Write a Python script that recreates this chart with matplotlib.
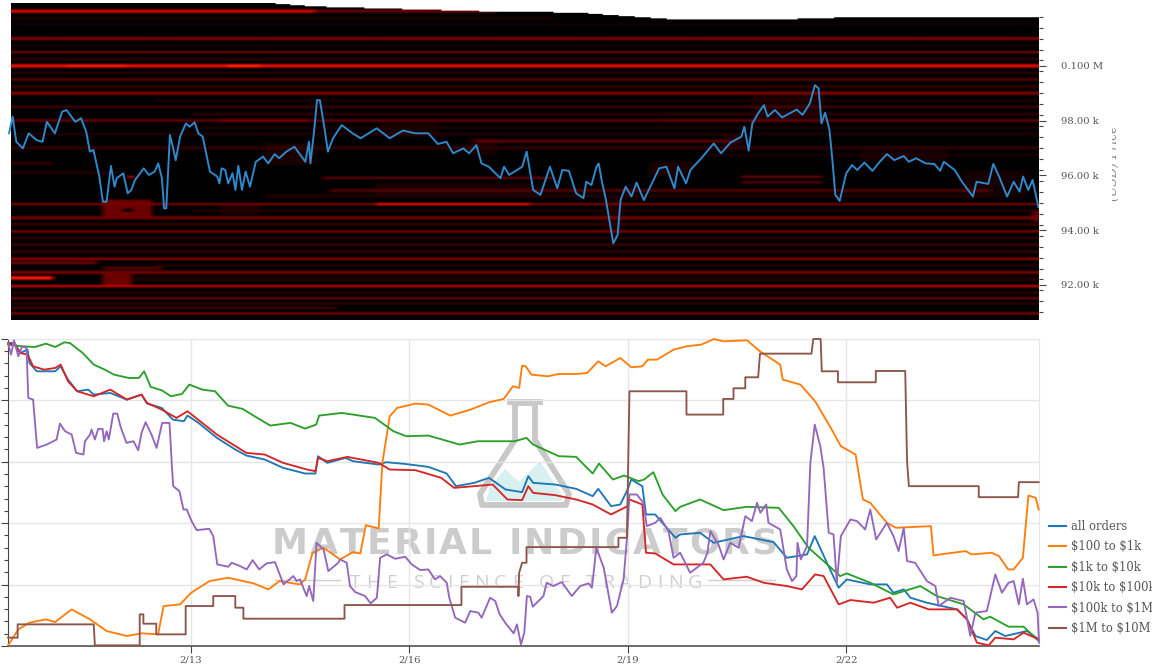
import numpy as np
import matplotlib
matplotlib.use("Agg")
import matplotlib.pyplot as plt
from matplotlib.colors import LinearSegmentedColormap
from matplotlib.lines import Line2D
from matplotlib.patches import Polygon, Rectangle
from matplotlib.ticker import FixedLocator, NullFormatter

W, H = 1152, 672
TEXT = "#555555"
plt.rcParams["font.family"] = "DejaVu Serif"

# --- top panel: price in k USD, x in days of February
price = [(10.50,97.54),(10.55,98.15),(10.60,97.23),(10.69,96.99),(10.77,97.54),(10.88,97.29),(10.96,97.23),
    (11.02,97.96),(11.13,97.54),(11.23,98.33),(11.29,98.39),(11.41,97.96),(11.49,98.09),(11.56,97.60),
    (11.61,96.87),(11.66,96.93),(11.74,95.96),(11.79,95.04),(11.84,95.04),(11.90,96.35),(11.95,95.59),
    (11.98,95.90),(12.07,96.08),(12.13,95.35),(12.18,95.47),(12.23,95.83),(12.35,96.26),(12.42,96.02),
    (12.50,96.14),(12.55,96.44),(12.60,95.90),(12.63,94.80),(12.66,94.80),(12.71,97.48),(12.75,97.05),
    (12.79,96.56),(12.85,97.42),(12.93,97.90),(12.98,97.78),(13.05,97.94),(13.10,97.54),(13.16,97.42),
    (13.26,96.14),(13.36,95.96),(13.39,95.71),(13.42,96.26),(13.47,96.20),(13.51,95.71),(13.57,96.08),
    (13.61,95.47),(13.65,96.35),(13.70,95.47),(13.75,96.14),(13.81,95.59),(13.89,96.50),(13.99,96.69),
    (14.06,96.44),(14.15,96.78),(14.21,96.63),(14.31,96.87),(14.42,97.05),(14.57,96.50),(14.62,97.23),
    (14.64,96.44),(14.69,97.60),(14.73,98.75),(14.77,98.75),(14.83,97.78),(14.88,96.87),(14.95,97.36),
    (15.07,97.84),(15.22,97.54),(15.33,97.36),(15.55,97.72),(15.73,97.36),(15.91,97.64),(16.08,97.54),
    (16.26,97.54),(16.39,97.15),(16.51,97.23),(16.60,96.81),(16.74,96.99),(16.82,96.81),(16.92,97.11),
    (16.99,96.44),(17.09,96.32),(17.25,95.90),(17.30,96.32),(17.37,96.02),(17.55,96.32),(17.61,96.87),
    (17.70,95.47),(17.80,95.29),(17.93,96.32),(18.03,95.53),(18.10,96.20),(18.19,96.17),(18.29,95.35),
    (18.39,95.17),(18.43,95.77),(18.50,95.65),(18.57,96.32),(18.60,96.44),(18.64,95.83),(18.70,95.10),
    (18.80,93.52),(18.86,93.83),(18.90,95.10),(18.97,95.59),(19.05,95.23),(19.12,95.74),(19.22,95.10),
    (19.33,95.71),(19.43,96.26),(19.53,96.32),(19.64,95.53),(19.69,96.32),(19.80,95.71),(19.86,96.20),
    (20.01,96.63),(20.18,97.17),(20.28,96.81),(20.41,97.20),(20.56,97.42),(20.60,97.78),(20.66,96.91),
    (20.71,97.90),(20.79,98.27),(20.87,98.57),(20.92,98.15),(21.02,98.39),(21.12,98.12),(21.32,98.41),
    (21.40,98.21),(21.50,98.63),(21.57,99.30),(21.62,99.18),(21.66,97.90),(21.71,98.29),(21.77,97.66),
    (21.81,96.56),(21.85,95.29),(21.91,95.07),(22.00,96.08),(22.08,96.38),(22.15,96.20),(22.25,96.47),
    (22.36,96.17),(22.46,96.50),(22.56,96.78),(22.66,96.56),(22.79,96.71),(22.86,96.50),(22.96,96.63),
    (23.09,96.44),(23.21,96.42),(23.29,96.17),(23.34,96.50),(23.49,96.20),(23.59,95.77),(23.74,95.23),
    (23.79,95.77),(23.95,95.69),(24.02,96.42),(24.10,95.96),(24.21,95.23),(24.30,95.77),(24.38,95.41),
    (24.43,95.96),(24.50,95.47),(24.56,95.83),(24.60,95.35),(24.64,94.84)]

# order book walls: price, from day, to day, strength
walls = [(102.0,10.53,14.70,.70),(102.0,14.70,17.2,.30),(101.75,10.53,18.0,.10),(101.0,10.53,24.65,.36),
    (100.5,10.53,24.65,.36),(100.0,10.53,24.65,.80),(100.0,11.28,12.12,.92),(100.0,13.50,13.94,1.0),
    (99.5,10.53,24.65,.32),(99.0,10.53,24.65,.38),(98.5,10.53,24.65,.22),(98.0,10.53,24.65,.24),
    (98.0,13.4,14.6,.34),(98.0,19.5,21.4,.26),(97.5,10.53,24.65,.12),(97.25,16.9,20.5,.26),(97.0,10.53,24.65,.14),
    (96.45,10.53,11.1,.14),(96.1,10.53,12.0,.14),(95.9,14.8,18.0,.30),(95.95,20.56,21.67,.32),
    (95.75,20.56,21.67,.28),(95.45,14.9,24.0,.22),(94.95,10.53,24.65,.38),(94.95,15.54,17.66,.85),
    (94.44,10.53,24.65,.34),(93.95,10.53,24.65,.42),(93.46,10.53,24.65,.22),(92.95,10.53,24.65,.50),
    (92.24,10.53,11.10,.92),(92.45,10.53,24.65,.34),(91.95,10.53,24.65,.66),(91.5,10.53,24.65,.34),
    (91.15,10.53,15.0,.22),(90.95,10.53,24.65,.40),(92.8,10.53,11.7,.30),(92.6,11.78,12.6,.24),
    (101.5,10.53,24.65,.06),(100.75,10.53,24.65,.08),(100.25,10.53,24.65,.12),(99.75,10.53,24.65,.14),
    (99.25,10.53,24.65,.14),(98.75,12.5,24.65,.12),(98.25,13.0,24.65,.12),(97.75,13.0,24.65,.10),
    (96.75,20.0,24.65,.10),(95.25,14.0,24.0,.10),(94.7,13.0,24.65,.12),(94.2,10.53,24.65,.14),
    (93.7,10.53,24.65,.14),(93.2,10.53,24.65,.14),(92.7,12.5,24.65,.12),(92.2,12.2,24.65,.12),
    (91.7,10.53,24.65,.16),(91.3,10.53,24.65,.14)]

# blocks: low price, high price, from day, to day, strength
blocks = [(94.37,95.10,11.78,12.45,.32),(92.0,92.5,11.78,12.18,.32),(95.9,96.0,12.13,12.2,.92),
    (98.0,98.9,20.7,21.7,.07),(96.7,97.4,16.8,17.2,.07),(97.4,97.9,15.6,16.4,.07),(96.4,97.2,14.0,14.7,.08),
    (95.2,95.7,15.5,17.7,.07),(94.6,95.0,13.4,13.95,.08),(96.9,97.5,20.3,20.6,.08),(96.5,96.9,22.2,23.4,.07),
    (95.2,96.2,23.6,24.5,.06),(94.0,95.3,18.65,18.95,.07),(96.0,96.5,19.3,19.9,.08),(94.3,94.7,24.55,24.65,.26)]
holes = [(94.68,94.80,12.05,12.20)]

# upper edge of the heatmap
edge_day = [10.53,14.06,14.72,17.09,18.29,19.70,20.97,22.33,24.65]
edge_price = [102.3,102.3,102.17,101.99,101.95,101.69,101.69,101.80,101.80]

price_ticks = [92,94,96,98,100]
price_labels = ["92.00 k","94.00 k","96.00 k","98.00 k","0.100 M"]

# --- bottom panel: (sample, relative level), 198 samples per day, first sample = day 10.376
all_orders = [(22,910),(40,910),(55,880),(75,890),(80,850),(100,825),(150,825),(165,840),(185,800),(210,765),
    (240,770),(255,755),(300,760),(345,740),(385,755),(400,728),(440,715),(470,680),(500,675),(510,692),
    (540,670),(590,625),(640,590),(670,572),(720,560),(770,535),(830,518),(858,518),(865,570),(890,550),
    (940,565),(960,555),(1030,545),(1050,552),(1100,547),(1165,538),(1215,518),(1240,480),(1290,490),
    (1330,505),(1375,470),(1420,462),(1437,510),(1450,490),(1510,485),(1567,472),(1612,450),(1627,472),
    (1662,420),(1687,425),(1707,470),(1717,500),(1747,480),(1757,395),(1782,395),(1817,350),(1837,325),
    (1850,335),(1904,340),(1941,310),(2022,330),(2104,312),(2140,265),(2195,275),(2216,330),(2249,250),
    (2281,175),(2303,200),(2367,185),(2412,185),(2430,160),(2458,170),(2476,145),(2521,130),(2603,110),
    (2630,80),(2653,30),(2684,18),(2707,45),(2734,30),(2793,45),(2825,20)]
usd_100_1k = [(22,2),(50,50),(80,70),(125,80),(150,72),(195,110),(245,80),(290,45),(345,30),(385,38),(430,35),
    (445,120),(490,125),(520,160),(570,195),(620,205),(690,188),(730,170),(760,195),(815,185),(830,200),
    (850,280),(880,295),(925,260),(960,282),(980,278),(995,363),(1030,353),(1040,550),(1060,690),(1080,715),
    (1130,728),(1165,725),(1225,692),(1280,710),(1330,732),(1370,742),(1395,780),(1412,775),(1420,842),
    (1430,840),(1445,815),(1490,810),(1520,817),(1567,817),(1597,820),(1627,855),(1647,840),(1687,865),
    (1717,837),(1747,840),(1762,860),(1787,860),(1832,890),(1867,900),(1907,905),(1942,922),(1967,915),
    (2032,918),(2067,885),(2122,845),(2129,800),(2177,785),(2217,735),(2257,660),(2287,600),(2327,575),
    (2347,440),(2367,430),(2412,370),(2437,355),(2532,360),(2539,272),(2577,278),(2627,285),(2642,275),
    (2697,280),(2717,270),(2742,230),(2757,230),(2782,265),(2797,452),(2817,445),(2825,410)]
usd_1k_10k = [(22,905),(60,900),(95,898),(125,908),(150,898),(175,912),(190,910),(225,880),(255,845),(285,830),
    (310,815),(350,805),(378,805),(392,825),(410,778),(440,768),(465,750),(495,757),(515,785),(550,770),
    (585,765),(620,722),(660,712),(700,685),(735,662),(790,670),(830,653),(860,665),(868,692),(930,700),
    (1020,685),(1070,645),(1105,630),(1165,632),(1250,605),(1300,615),(1400,615),(1432,625),(1450,605),
    (1520,570),(1567,568),(1612,518),(1629,548),(1667,500),(1697,512),(1737,495),(1752,500),(1777,522),
    (1802,455),(1837,405),(1850,418),(1904,440),(1968,408),(2031,418),(2118,415),(2158,360),(2199,295),
    (2240,255),(2285,210),(2303,218),(2367,190),(2430,155),(2503,180),(2548,150),(2621,125),(2675,80),
    (2693,88),(2743,58),(2784,58),(2825,15)]
usd_10k_100k = [(22,910),(40,905),(55,880),(75,875),(90,840),(120,830),(150,835),(165,845),(185,795),(210,765),
    (255,750),(300,770),(345,740),(385,755),(400,730),(440,710),(480,685),(510,705),(590,635),(670,580),
    (720,575),(770,550),(835,530),(858,525),(865,565),(890,555),(945,568),(1030,550),(1060,530),(1130,528),
    (1200,505),(1235,475),(1290,480),(1340,485),(1380,440),(1420,438),(1437,480),(1450,460),(1510,453),
    (1567,440),(1612,425),(1662,395),(1707,420),(1712,440),(1747,425),(1757,280),(1782,278),(1832,245),
    (1850,245),(1932,245),(1968,200),(2031,208),(2077,190),(2140,180),(2181,170),(2217,215),(2240,210),
    (2281,125),(2313,138),(2376,130),(2421,145),(2440,115),(2476,130),(2526,110),(2603,110),(2630,80),
    (2657,10),(2689,2),(2707,25),(2757,20),(2784,40),(2825,20)]
usd_100k_1m = [(22,910),(30,875),(38,918),(50,870),(60,900),(72,895),(77,745),(90,740),(101,595),(127,605),
    (154,620),(163,668),(177,645),(195,635),(207,580),(227,575),(231,615),(245,635),(249,650),(258,620),
    (267,652),(279,652),(283,615),(290,645),(296,620),(308,698),(319,698),(328,658),(344,610),(363,615),
    (376,588),(385,640),(396,672),(412,635),(426,595),(441,670),(461,670),(467,550),(471,480),(488,465),
    (499,410),(508,410),(521,375),(535,348),(569,352),(580,330),(591,245),(621,238),(630,250),(653,240),
    (671,230),(687,258),(705,230),(725,248),(748,252),(771,185),(798,210),(807,195),(816,200),(834,150),
    (841,180),(852,135),(861,310),(880,290),(893,225),(920,250),(925,260),(943,250),(952,180),(966,162),
    (993,150),(1008,128),(1025,145),(1034,265),(1052,275),(1075,262),(1102,268),(1120,245),(1143,228),
    (1165,230),(1183,200),(1197,210),(1215,190),(1222,145),(1238,85),(1265,70),(1279,105),(1301,100),
    (1310,85),(1333,145),(1347,135),(1359,95),(1374,70),(1397,38),(1406,65),(1417,5),(1426,40),(1433,150),
    (1442,148),(1449,118),(1478,150),(1487,190),(1505,180),(1528,192),(1555,150),(1578,180),(1601,188),
    (1610,175),(1622,295),(1642,235),(1651,180),(1664,100),(1678,120),(1696,200),(1705,320),(1712,455),
    (1732,455),(1750,430),(1759,360),(1782,370),(1796,385),(1818,345),(1832,265),(1850,280),(1877,220),
    (1913,250),(1924,280),(1932,345),(1954,305),(1968,260),(1986,310),(2009,295),(2027,390),(2045,375),
    (2059,430),(2068,400),(2084,425),(2090,370),(2122,350),(2140,230),(2154,195),(2166,210),(2169,310),
    (2178,260),(2195,300),(2204,550),(2216,665),(2231,600),(2240,535),(2254,340),(2267,335),(2276,190),
    (2287,330),(2313,380),(2331,375),(2353,350),(2367,410),(2383,320),(2412,370),(2430,330),(2444,285),
    (2458,355),(2467,255),(2489,250),(2521,195),(2544,180),(2553,120),(2585,145),(2621,135),(2639,30),
    (2653,100),(2684,105),(2707,215),(2725,160),(2743,190),(2757,195),(2771,125),(2782,202),(2793,125),
    (2811,140),(2822,100),(2826,10)]
usd_1m_10m = [(22,25),(48,25),(48,65),(255,65),(258,2),(380,2),(380,95),(390,95),(390,67),(425,67),(425,35),
    (505,35),(505,120),(580,120),(580,150),(640,150),(640,115),(662,115),(662,82),(937,82),(937,123),
    (1255,123),(1255,178),(1410,178),(1410,150),(1412,220),(1420,250),(1432,250),(1432,297),(1567,297),
    (1682,297),(1682,325),(1705,325),(1712,765),(1867,765),(1867,695),(1967,695),(1967,742),(1995,742),
    (1995,774),(2027,774),(2027,807),(2062,807),(2067,878),(2207,878),(2212,922),(2232,922),(2235,825),
    (2279,825),(2279,792),(2382,792),(2382,826),(2462,826),(2467,555),(2472,480),(2662,480),(2662,447),
    (2769,447),(2771,492),(2825,492)]

series = [all_orders, usd_100_1k, usd_1k_10k, usd_10k_100k, usd_100k_1m, usd_1m_10m]
series_names = ["all orders", r"\$100 to \$1k", r"\$1k to \$10k", r"\$10k to \$100k", r"\$100k to \$1M", r"\$1M to \$10M"]
series_colors = ["#1f77b4", "#ff7f0e", "#2ca02c", "#d62728", "#9467bd", "#8c564b"]

date_ticks = [13, 16, 19, 22]
date_labels = ["2/13", "2/16", "2/19", "2/22"]
level_ticks = [0, 184, 369, 553, 738, 922]


def px_box(x0, y0, x1, y1):
    return [x0 / W, 1 - y1 / H, (x1 - x0) / W, (y1 - y0) / H]


def fig_xy(pts):
    return [(x / W, 1 - y / H) for x, y in pts]


def spaced_text(fig, s, x0, x1, base, size, color, **kw):
    # matplotlib has no letter spacing, so set the letters one by one
    r = fig.canvas.get_renderer()
    widths = []
    for c in s:
        t = fig.text(0, 0, c if c != " " else "i", fontsize=size, **kw)
        widths.append(t.get_window_extent(r).width)
        t.remove()
    gap = (x1 - x0 - sum(widths)) / (len(s) - 1)
    x = x0
    for c, w in zip(s, widths):
        if c != " ":
            fig.text(x / W, 1 - base / H, c, fontsize=size, color=color, va="baseline", ha="left", zorder=1.5, **kw)
        x += w + gap


def smooth(a):
    # soften the grid a little along both directions, the source image is blurry
    v = np.array([0.25, 0.5, 0.25])
    h = np.ones(5) / 5
    a = np.apply_along_axis(lambda c: np.convolve(c, v, mode="same"), 0, a)
    return np.apply_along_axis(lambda c: np.convolve(np.pad(c, 2, mode="edge"), h, mode="valid"), 1, a)


fig = plt.figure(figsize=(W / 100, H / 100), dpi=100)

# heatmap grid filled from the walls and blocks
days = np.arange(10.53, 24.66, 0.02)
rows = np.arange(90.72, 102.3, 0.04)
heat = np.zeros((len(rows), len(days)))
for p, d0, d1, s in walls:
    rr = np.abs(rows - p) <= 0.05
    cc = (days >= d0) & (days <= d1)
    heat[np.ix_(rr, cc)] = np.maximum(heat[np.ix_(rr, cc)], s)
for p0, p1, d0, d1, s in blocks:
    rr = (rows >= p0) & (rows <= p1)
    cc = (days >= d0) & (days <= d1)
    heat[np.ix_(rr, cc)] = np.maximum(heat[np.ix_(rr, cc)], s)
for p0, p1, d0, d1 in holes:
    heat[np.ix_((rows >= p0) & (rows <= p1), (days >= d0) & (days <= d1))] = 0
heat = smooth(heat)
top_edge = np.interp(days, edge_day, edge_price)
heat = np.ma.masked_where(rows[:, None] > top_edge[None, :], heat)

cmap = LinearSegmentedColormap.from_list("book", ["#000000", "#5c0000", "#a80000", "#e01400", "#ff3a10"])
cmap.set_bad("white")

ax1 = fig.add_axes(px_box(8, 3, 1039, 320))
ax1.imshow(heat, origin="lower", aspect="auto", cmap=cmap, vmin=0, vmax=1.05, interpolation="bilinear",
           extent=[days[0], days[-1], rows[0], rows[-1]])
ax1.plot(*zip(*price), color="#2e88c9", lw=1.4, solid_joinstyle="round")
ax1.set_xlim(10.486, 24.648)
ax1.set_ylim(90.72, 102.3)
for side in ["left", "top", "bottom", "right"]:
    ax1.spines[side].set_visible(False)
ax1.set_xticks([])
ax1.yaxis.tick_right()
ax1.set_yticks(price_ticks)
ax1.set_yticklabels(price_labels, fontsize=7.2, color=TEXT)
ax1.yaxis.set_minor_locator(FixedLocator(np.arange(91, 102.1, 0.4)))
ax1.tick_params(axis="y", which="major", length=5, width=0.8, color="#444444", pad=11)
ax1.tick_params(axis="y", which="minor", length=3, width=0.8, color="#444444")

# axis title is cut off on its left side in the source
lab = fig.text(1113 / W, 1 - 163 / H, "(USD) Price", rotation=90, fontsize=9, color="#888888",
               ha="center", va="center", style="italic")
lab.set_clip_path(Rectangle((1112, H - 210), 30, 100, transform=None))

ax2 = fig.add_axes(px_box(8, 339, 1039, 646))
ax2.set_facecolor("none")
for data, color in zip(series, series_colors):
    t, v = zip(*data)
    ax2.plot(10.376 + np.array(t) / 198, v, color=color, lw=1.35, clip_on=False, zorder=3)
ax2.set_xlim(10.486, 24.648)
ax2.set_ylim(0, 922)
ax2.set_xticks(date_ticks)
ax2.set_xticklabels(date_labels, fontsize=7.2, color=TEXT)
ax2.set_yticks(level_ticks)
ax2.yaxis.set_major_formatter(NullFormatter())
ax2.yaxis.set_minor_locator(FixedLocator(np.arange(0, 922, 36.9)))
ax2.tick_params(axis="y", which="major", length=5, width=0.8, color="#444444")
ax2.tick_params(axis="y", which="minor", length=3, width=0.8, color="#444444")
ax2.tick_params(axis="x", length=5, width=0.8, color="#444444", pad=2)
ax2.grid(True, which="major", color="#e6e6e6", lw=1)
ax2.set_axisbelow(True)
ax2.spines["left"].set_color("#444444")
ax2.spines["bottom"].set_color("#444444")
ax2.spines["bottom"].set_linewidth(1.1)
ax2.spines["top"].set_color("#e6e6e6")
ax2.spines["right"].set_color("#e6e6e6")

# watermark sits behind the lines
flask = [(515, 403), (515, 440), (480, 494), (482, 505), (566, 505), (569, 494), (535, 440), (535, 403)]
hills = [(486, 501), (490, 487), (505, 469), (519, 482), (540, 461), (562, 495), (562, 501)]
fig.add_artist(Polygon(fig_xy(hills), closed=True, fc="#d8f0f0", ec="none", zorder=1.2))
fig.add_artist(Polygon(fig_xy(flask), closed=True, fc="none", ec="#c8c8c8", lw=4.2, joinstyle="round", zorder=1.3))
fig.add_artist(Line2D([510 / W, 540 / W], [1 - 402 / H] * 2, color="#c8c8c8", lw=4.2, zorder=1.3))
ax2.set_zorder(2)
ax1.set_zorder(2)
spaced_text(fig, "MATERIAL INDICATORS", 272, 778, 554, 26, "#cccccc", family="DejaVu Sans", weight="bold")
spaced_text(fig, "THE SCIENCE OF TRADING", 350, 702, 588, 14, "#cfcfcf", family="Open Sans")
for x0, x1 in [(275, 340), (708, 775)]:
    fig.add_artist(Line2D([x0 / W, x1 / W], [1 - 580 / H] * 2, color="#d0d0d0", lw=1, zorder=1.3))

handles = [Line2D([], [], color=c, lw=1.5) for c in series_colors]
fig.legend(handles, series_names, loc="upper left", bbox_to_anchor=(1049 / W, 1 - 520 / H), frameon=False,
           fontsize=8.3, labelcolor=TEXT, labelspacing=0.64, handlelength=1.5, handletextpad=0.4,
           borderpad=0, borderaxespad=0)

fig.savefig("out.png", dpi=100)
